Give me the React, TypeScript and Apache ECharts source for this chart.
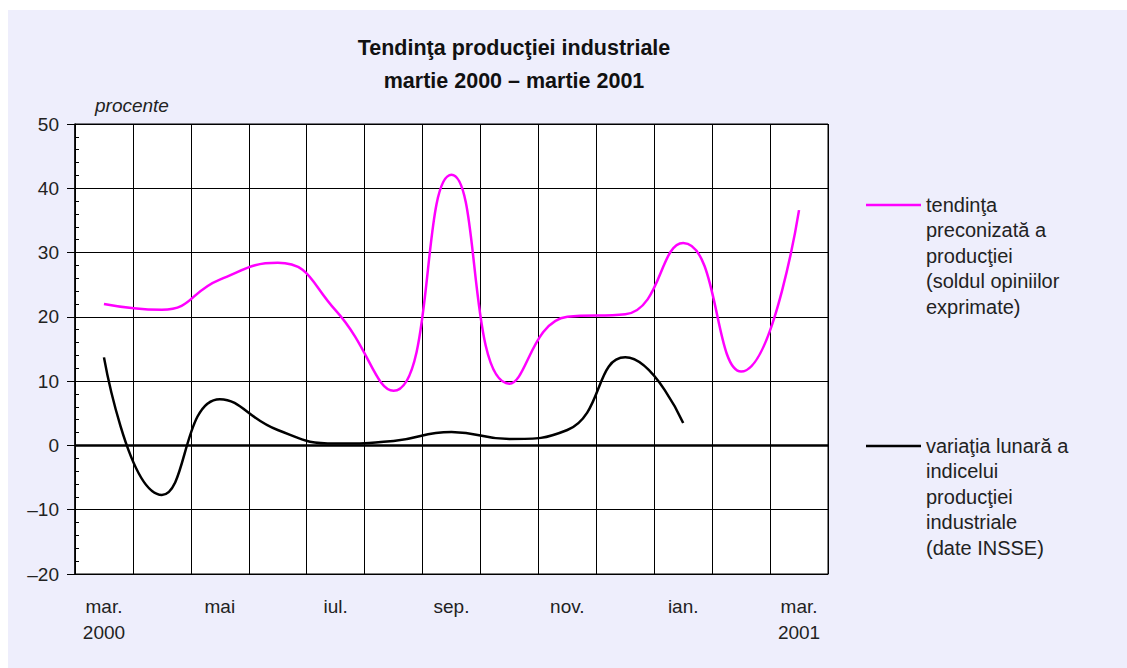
import React, { useEffect, useRef } from "react";
import * as echarts from "echarts";

const months = ["mar.\n2000", "apr.", "mai", "iun.", "iul.", "aug.", "sep.", "oct.", "nov.", "dec.", "ian.", "feb.", "mar.\n2001"];
const tendinta = [22.0, 21.1, 25.8, 28.4, 21.0, 8.5, 42.1, 9.6, 20.0, 20.4, 31.5, 11.5, 36.6];
const variatia = [13.7, -7.7, 7.2, 2.4, 0.3, 0.7, 2.1, 1.0, 2.4, 13.7, 3.5];
const yMin = -20;
const yMax = 50;
const yStep = 10;
const titleLines = ["Tendinţa producţiei industriale", "martie 2000 – martie 2001"];
const unitLabel = "procente";
const legendPink = ["tendinţa", "preconizată a", "producţiei", "(soldul opiniilor", "exprimate)"];
const legendBlack = ["variaţia lunară a", "indicelui", "producţiei", "industriale", "(date INSSE)"];

const FONT = "'Liberation Sans', Arial, sans-serif";
const PINK = "#ff00ff";
const BG = "#eeeefc";

export default function App() {
  const ref = useRef<HTMLDivElement>(null);
  useEffect(() => {
    if (!ref.current) return;
    const chart = echarts.init(ref.current, undefined, { renderer: "svg" });
    const legendText = (lines: string[], y: number) => ({
      type: "text",
      left: 926,
      top: y,
      style: {
        text: lines.join("\n"),
        font: `20px ${FONT}`,
        lineHeight: 25.5,
        fill: "#222",
      },
    });
    chart.setOption({
      animation: false,
      backgroundColor: "#ffffff",
      textStyle: { fontFamily: FONT },
      graphic: [
        { type: "rect", shape: { x: 8, y: 10, width: 1119, height: 658 }, style: { fill: BG }, z: -10, silent: true },
        {
          type: "text",
          x: 514,
          y: 31,
          style: {
            text: titleLines.join("\n"),
            font: `bold 21.5px ${FONT}`,
            lineHeight: 33,
            align: "center",
            fill: "#111",
          },
        },
        {
          type: "text",
          left: 95,
          top: 96,
          style: { text: unitLabel, font: `italic 19px ${FONT}`, fill: "#222" },
        },
        { type: "line", shape: { x1: 866, y1: 205, x2: 921, y2: 205 }, style: { stroke: PINK, lineWidth: 2.5 } },
        legendText(legendPink, 192),
        { type: "line", shape: { x1: 866, y1: 446, x2: 921, y2: 446 }, style: { stroke: "#000", lineWidth: 2.5 } },
        legendText(legendBlack, 433),
      ],
      grid: {
        left: 75,
        right: 299,
        top: 124,
        bottom: 94,
        show: true,
        backgroundColor: "#ffffff",
        borderColor: "#000",
        borderWidth: 1,
      },
      xAxis: {
        type: "category",
        data: months,
        boundaryGap: true,
        axisLine: { onZero: false, lineStyle: { color: "#000", width: 1 } },
        axisTick: { show: false },
        axisLabel: {
          interval: 1,
          margin: 19,
          fontSize: 19,
          lineHeight: 26,
          color: "#222",
          fontFamily: FONT,
        },
        splitLine: { show: true, interval: 0, lineStyle: { color: "#000", width: 1 } },
      },
      yAxis: [
        {
          type: "value",
          min: yMin,
          max: yMax,
          interval: yStep,
          axisLine: { show: true, lineStyle: { color: "#000", width: 1.5 } },
          axisTick: { show: true, inside: false, length: 8, lineStyle: { color: "#000" } },
          axisLabel: {
            margin: 16,
            fontSize: 19,
            color: "#222",
            fontFamily: FONT,
            formatter: (v: number) => (v < 0 ? "–" + Math.abs(v) : String(v)),
          },
          splitLine: { show: true, lineStyle: { color: "#000", width: 1 } },
        },
        {
          type: "value",
          min: yMin,
          max: yMax,
          interval: 2,
          position: "left",
          axisLine: { show: false },
          axisTick: { show: true, inside: true, length: 4, lineStyle: { color: "#000" } },
          axisLabel: { show: false },
          splitLine: { show: false },
        },
      ],
      series: [
        {
          name: "tendinţa preconizată a producţiei",
          type: "line",
          data: tendinta,
          smooth: 0.5,
          showSymbol: false,
          lineStyle: { color: PINK, width: 2.5 },
          z: 3,
        },
        {
          name: "variaţia lunară a indicelui producţiei industriale",
          type: "line",
          data: variatia,
          smooth: 0.5,
          showSymbol: false,
          lineStyle: { color: "#000", width: 2.5 },
          z: 4,
          markLine: {
            silent: true,
            symbol: "none",
            label: { show: false },
            lineStyle: { color: "#000", width: 2.5, type: "solid" },
            data: [{ yAxis: 0 }],
          },
        },
      ],
    });
    return () => chart.dispose();
  }, []);
  return <div ref={ref} style={{ position: "fixed", left: 0, top: 0, width: 1127, height: 668 }} />;
}
